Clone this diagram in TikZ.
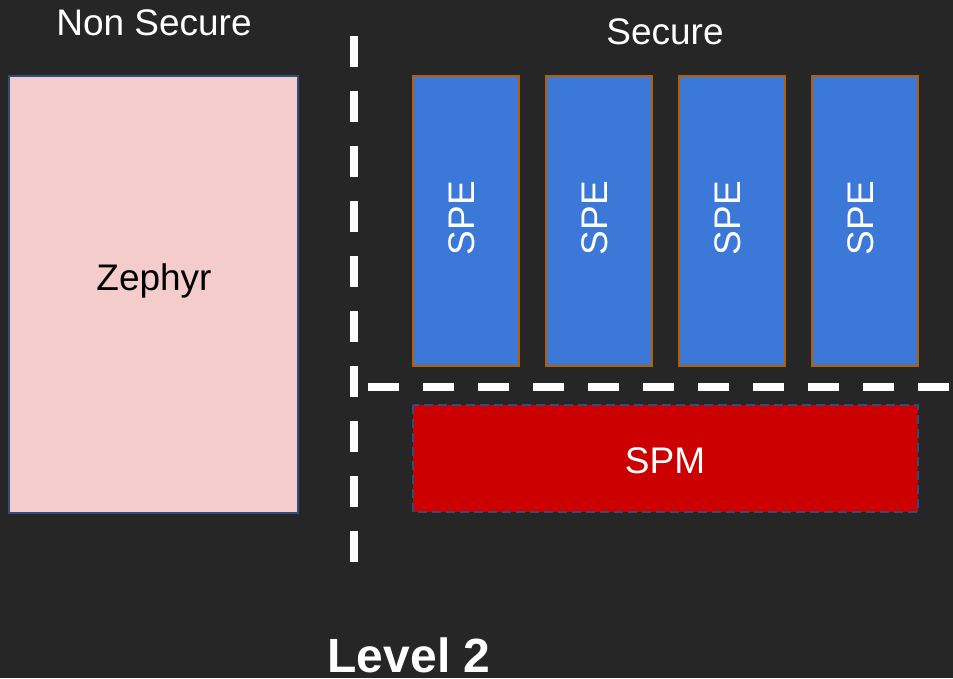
\documentclass[tikz,border=0pt]{standalone}
\usepackage{fontspec}
\setmainfont{Liberation Sans}
\usepackage{tikz}
\definecolor{bgdark}{HTML}{262626}
\definecolor{nspink}{HTML}{F4CCCC}
\definecolor{nsedge}{HTML}{2E4E7E}
\definecolor{speblue}{HTML}{3C78D8}
\definecolor{speedge}{HTML}{B45F06}
\definecolor{spmred}{HTML}{CC0000}
\tikzset{
  lbl/.style={text=white,font=\fontsize{37}{44}\selectfont},
  spebox/.style={draw=speedge,fill=speblue,line width=1.5pt},
  divider/.style={white,line width=8pt,dash pattern=on 31pt off 24pt}
}
\begin{document}
\begin{tikzpicture}[x=1pt,y=-1pt]
			\fill[bgdark] (0,0) rectangle (953,678);
			\useasboundingbox (0,0) rectangle (953,678);
			
			% non secure side
			\draw[nsedge,fill=nspink,line width=1.5pt] (9,76) rectangle (298,513);
			\node[font=\fontsize{37}{44}\selectfont] (zephyr)at(154,281) {Zephyr};
			\node[lbl] (ns)at(154,23) {Non Secure};
			
			% secure side
			\node[lbl] (sec)at(665,32) {Secure};
			\foreach \x/\n in {413/1,546/2,679/3,812/4}{
				\draw[spebox] (\x,76) rectangle (\x+106,366);
				\node[lbl,rotate=90] (spe\n)at(\x+49,218) {SPE};
			}
			\draw[nsedge,fill=spmred,line width=1.5pt,dash pattern=on 9pt off 5pt] (413,405) rectangle (918,512);
			\node[lbl] (spm)at(665,461) {SPM};
			
			% dividers
			\draw[divider] (354,36) -- (354,568);
			\draw[divider] (368,387) -- (953,387);
			
			\node[text=white,font=\bfseries\fontsize{48}{54}\selectfont,anchor=base] (level)at(409,672) {Level 2};
		\end{tikzpicture}
\end{document}
